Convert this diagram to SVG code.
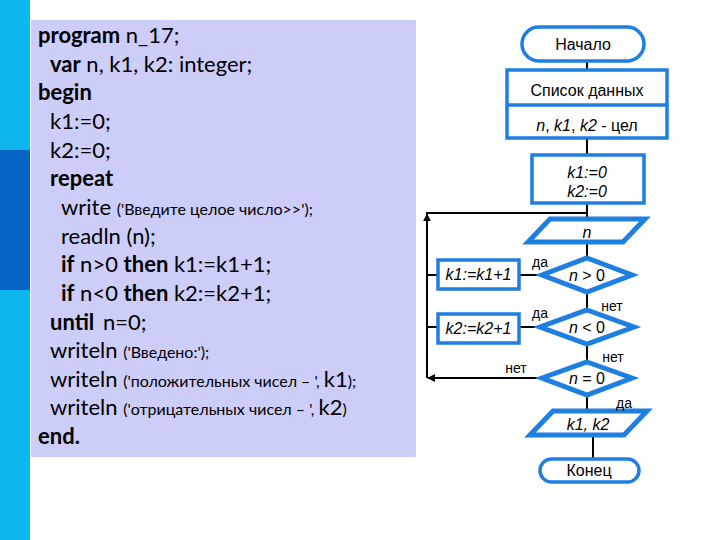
<svg xmlns="http://www.w3.org/2000/svg" width="720" height="540" viewBox="0 0 720 540">
<style>
.code{font-family:Lato,"Noto Sans",sans-serif;font-size:22px;fill:#000}
.b{font-weight:bold}
.s{font-size:16px}
.fc{font-family:"Liberation Sans",Arial,sans-serif;font-size:16px;fill:#000;text-anchor:middle}
.it{font-style:italic}
.lbl{font-family:"Liberation Sans",Arial,sans-serif;font-size:14px;fill:#000;text-anchor:middle}
.box{fill:#fff;stroke:#1E7FE0;stroke-width:3.5}
.dia{fill:#fff;stroke:#1E7FE0;stroke-width:5}
.ln{fill:none;stroke:#000;stroke-width:2}
</style>
<defs>
<marker id="arr" viewBox="0 0 10 10" refX="9" refY="5" markerWidth="4" markerHeight="4" orient="auto" markerUnits="strokeWidth">
<path d="M0,0 L10,5 L0,10 z" fill="#000"/>
</marker>
</defs>
<rect width="720" height="540" fill="#fff"/>
<g id="sidebar">
<rect x="0" y="0" width="30" height="540" fill="#0DB6EC"/>
<rect x="0" y="150" width="30" height="140" fill="#0563C6"/>
</g>
<g id="code-panel">
<rect x="31" y="20" width="385" height="437" fill="#CDCDF9"/>
<text class="code" x="38" y="43"><tspan class="b">program</tspan> n_17;</text>
<text class="code" x="50" y="72"><tspan class="b">var</tspan> n, k1, k2: integer;</text>
<text class="code" x="38" y="100"><tspan class="b">begin</tspan></text>
<text class="code" x="50" y="129">k1:=0;</text>
<text class="code" x="50" y="158">k2:=0;</text>
<text class="code" x="50" y="186"><tspan class="b">repeat</tspan></text>
<text class="code" x="61" y="215">write <tspan class="s">('Введите целое число&gt;&gt;');</tspan></text>
<text class="code" x="61" y="244">readln (n);</text>
<text class="code" x="61" y="272"><tspan class="b">if</tspan> n&gt;0 <tspan class="b">then</tspan> k1:=k1+1;</text>
<text class="code" x="61" y="301"><tspan class="b">if</tspan> n&lt;0 <tspan class="b">then</tspan> k2:=k2+1;</text>
<text class="code" x="50" y="330"><tspan class="b">until</tspan> <tspan dx="3">n=0;</tspan></text>
<text class="code" x="50" y="358">writeln <tspan class="s">('Введено:');</tspan></text>
<text class="code" x="50" y="387">writeln <tspan class="s">('положительных чисел – ', </tspan>k1<tspan class="s">);</tspan></text>
<text class="code" x="50" y="415">writeln <tspan class="s">('отрицательных чисел – ', </tspan>k2<tspan class="s">)</tspan></text>
<text class="code" x="38" y="444"><tspan class="b">end.</tspan></text>
</g>
<g id="connectors">
<line class="ln" x1="587" y1="61" x2="587" y2="70"/>
<line class="ln" x1="587" y1="138" x2="587" y2="155"/>
<line class="ln" x1="587" y1="203" x2="587" y2="219"/>
<line class="ln" x1="587" y1="242" x2="587" y2="258"/>
<line class="ln" x1="587" y1="292" x2="587" y2="310"/>
<line class="ln" x1="587" y1="344" x2="587" y2="362"/>
<line class="ln" x1="587" y1="395" x2="587" y2="411"/>
<line class="ln" x1="593" y1="435" x2="593" y2="459"/>
<line class="ln" x1="542" y1="275" x2="519" y2="275"/>
<line class="ln" x1="438" y1="275" x2="427" y2="275"/>
<line class="ln" x1="540" y1="327" x2="519" y2="327"/>
<line class="ln" x1="438" y1="327" x2="427" y2="327"/>
<line class="ln" x1="542" y1="378" x2="428" y2="378" marker-end="url(#arr)"/>
<line class="ln" x1="427" y1="378" x2="427" y2="214" marker-end="url(#arr)"/>
<line class="ln" x1="426" y1="213" x2="587" y2="213"/>
</g>
<g id="start">
<rect class="box" x="522" y="27" width="122" height="34" rx="17"/>
<text class="fc" x="583" y="50">Начало</text>
</g>
<g id="data-list">
<rect class="box" x="507" y="70" width="160" height="68"/>
<line x1="507" y1="105" x2="667" y2="105" stroke="#1E7FE0" stroke-width="3.5"/>
<text class="fc" x="587" y="96">Список данных</text>
<text class="fc" x="587" y="131"><tspan class="it">n</tspan>, <tspan class="it">k1</tspan>, <tspan class="it">k2</tspan> - цел</text>
</g>
<g id="init">
<rect class="box" x="532" y="155" width="112" height="48"/>
<text class="fc it" x="587" y="178">k1:=0</text>
<text class="fc it" x="587" y="197">k2:=0</text>
</g>
<g id="input-n">
<polygon class="dia" stroke-width="4" points="550,219 645,219 623,242 528,242"/>
<text class="fc it" x="587" y="238">n</text>
</g>
<g id="cond-pos">
<polygon class="dia" points="587,258 632,275 587,292 542,275"/>
<text class="fc" x="587" y="281"><tspan class="it">n</tspan> &gt; 0</text>
</g>
<g id="inc-k1">
<rect class="box" x="438" y="260" width="81" height="29"/>
<text class="fc it" x="478.5" y="280">k1:=k1+1</text>
</g>
<g id="cond-neg">
<polygon class="dia" points="587,310 634,327 587,344 540,327"/>
<text class="fc" x="587" y="333"><tspan class="it">n</tspan> &lt; 0</text>
</g>
<g id="inc-k2">
<rect class="box" x="438" y="314" width="81" height="29"/>
<text class="fc it" x="478.5" y="334">k2:=k2+1</text>
</g>
<g id="cond-zero">
<polygon class="dia" points="587,362 632,378 587,395 542,378"/>
<text class="fc" x="587" y="384"><tspan class="it">n</tspan> = 0</text>
</g>
<g id="output">
<polygon class="dia" stroke-width="4" points="553,411 647,411 624,435 530,435"/>
<text class="fc it" x="588" y="430">k1, k2</text>
</g>
<g id="end">
<rect class="box" x="540" y="459" width="99" height="23" rx="11.5"/>
<text class="fc" x="589" y="476">Конец</text>
</g>
<g id="labels">
<text class="lbl" x="540" y="267">да</text>
<text class="lbl" x="612" y="311">нет</text>
<text class="lbl" x="540" y="318">да</text>
<text class="lbl" x="613" y="362">нет</text>
<text class="lbl" x="516" y="373">нет</text>
<text class="lbl" x="624" y="408">да</text>
</g>
</svg>
